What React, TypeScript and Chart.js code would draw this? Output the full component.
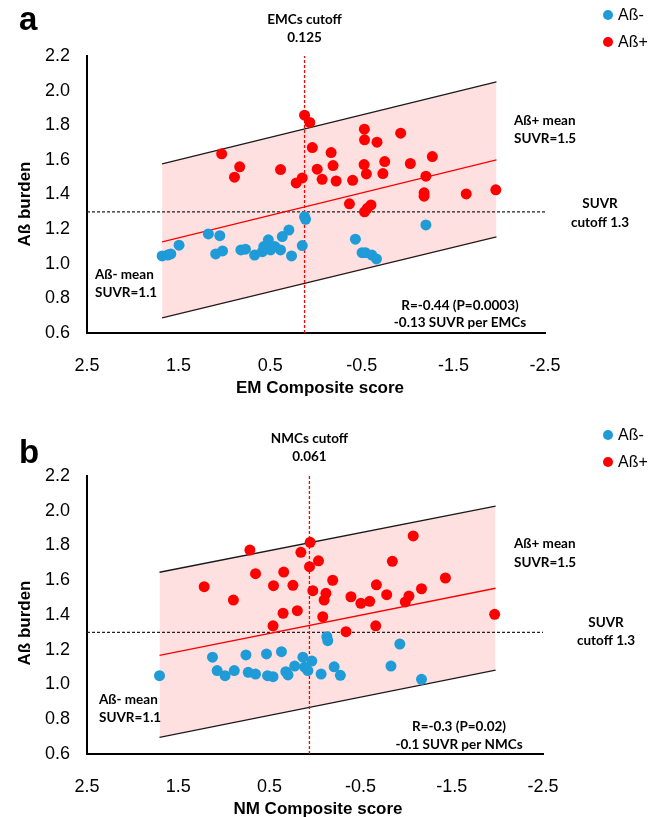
import { useEffect, useRef } from "react";
import { Chart, registerables } from "chart.js";

Chart.register(...registerables);

// ---------- shared ----------
const yTicks = [0.6, 0.8, 1.0, 1.2, 1.4, 1.6, 1.8, 2.0, 2.2];
const xTicks = [2.5, 1.5, 0.5, -0.5, -1.5, -2.5];
const seriesNames = ["Aß-", "Aß+"];
const suvrCutoff = 1.3;

// ---------- panel a (EM composite) ----------
const aNegX = [1.68, 1.62, 1.585, 1.495, 1.175, 1.05, 1.095, 1.02, 0.82, 0.77, 0.67, 0.586, 0.57, 0.52, 0.496, 0.45, 0.387, 0.368, 0.296, 0.267, 0.15, 0.125, 0.114, -0.43, -0.503, -0.54, -0.61, -0.66, -1.2];
const aNegY = [1.045, 1.05, 1.057, 1.107, 1.172, 1.162, 1.057, 1.074, 1.08, 1.084, 1.05, 1.07, 1.099, 1.138, 1.08, 1.1, 1.08, 1.157, 1.195, 1.045, 1.105, 1.272, 1.257, 1.142, 1.064, 1.064, 1.05, 1.028, 1.224];
const aPosX = [1.03, 0.833, 0.89, 0.387, 0.216, 0.15, 0.125, 0.068, 0.04, -0.013, -0.067, -0.165, -0.186, -0.22, -0.4, -0.528, -0.53, -0.666, -0.924, -0.525, -0.55, -0.75, -0.73, -1.03, -1.27, -1.2, -1.963, -1.64, -1.18, -1.18, -0.365, -0.6, -0.56, -0.53];
const aPosY = [1.635, 1.56, 1.5, 1.544, 1.467, 1.496, 1.858, 1.816, 1.671, 1.546, 1.488, 1.642, 1.567, 1.478, 1.482, 1.777, 1.716, 1.702, 1.754, 1.573, 1.519, 1.59, 1.521, 1.579, 1.619, 1.506, 1.427, 1.403, 1.41, 1.39, 1.346, 1.34, 1.32, 1.3];
const aBandX = [1.68, -1.97];
const aUpperY = [1.577, 2.05];
const aFitY = [1.126, 1.6];
const aLowerY = [0.687, 1.155];
const aCutoffX = 0.125;

// ---------- panel b (NM composite) ----------
const bNegX = [1.705, 1.124, 1.073, 0.986, 0.885, 0.757, 0.732, 0.652, 0.532, 0.52, 0.46, 0.368, 0.32, 0.296, 0.223, 0.133, 0.114, 0.078, 0.035, -0.067, -0.13, -0.14, -0.21, -0.278, -0.833, -1.168, -0.93];
const bNegY = [1.051, 1.157, 1.08, 1.051, 1.08, 1.17, 1.07, 1.06, 1.176, 1.051, 1.045, 1.189, 1.074, 1.055, 1.106, 1.157, 1.1, 1.08, 1.135, 1.06, 1.275, 1.252, 1.102, 1.053, 1.106, 1.03, 1.233];
const bPosX = [1.215, 0.895, 0.714, 0.652, 0.455, 0.343, 0.242, 0.35, 0.194, 0.46, 0.155, 0.053, 0.06, -0.038, 0.024, -0.1, -0.12, -0.085, -0.194, -0.394, -0.503, -0.6, -0.673, -0.786, -0.848, -1.077, -1.03, -0.99, -1.168, -1.43, -1.97, -0.666, -0.34];
const bPosY = [1.563, 1.486, 1.774, 1.638, 1.569, 1.647, 1.571, 1.41, 1.425, 1.338, 1.761, 1.818, 1.678, 1.712, 1.54, 1.486, 1.525, 1.39, 1.6, 1.505, 1.467, 1.479, 1.574, 1.517, 1.709, 1.855, 1.509, 1.475, 1.551, 1.613, 1.404, 1.338, 1.304];
const bBandX = [1.705, -1.98];
const bUpperY = [1.646, 2.027];
const bFitY = [1.168, 1.554];
const bLowerY = [0.696, 1.083];
const bCutoffX = 0.061;

const BLUE = "#1f9bd7";
const RED = "#ff0000";
const LATO = '"Lato", "Liberation Sans", sans-serif';
const ARIAL = '"Liberation Sans", Arial, sans-serif';

const pts = (xs: number[], ys: number[]) => xs.map((x, i) => ({ x, y: ys[i] }));

type PanelCfg = {
  letter: string;
  negX: number[]; negY: number[]; posX: number[]; posY: number[];
  bandX: number[]; upperY: number[]; fitY: number[]; lowerY: number[];
  cutoffX: number; cutoffTitle: string; cutoffLabel: string;
  xTitle: string; stats: string[];
  lay: any;
};

const panels: PanelCfg[] = [
  {
    letter: "a",
    negX: aNegX, negY: aNegY, posX: aPosX, posY: aPosY,
    bandX: aBandX, upperY: aUpperY, fitY: aFitY, lowerY: aLowerY,
    cutoffX: aCutoffX, cutoffTitle: "EMCs cutoff", cutoffLabel: aCutoffX.toFixed(3),
    xTitle: "EM Composite score", stats: ["R=-0.44 (P=0.0003)", "-0.13 SUVR per EMCs"],
    lay: {
      top: 0, h: 408, padTop: 56, padRight: 113, xH: 75,
      letterY: 30, cutY: [24, 42], legY: [15, 42],
      posMean: [514, 125, 143], suvr: [600, 208, 227], negMean: [95, 279, 297],
      stats: [460, 310, 327], xTitle: [320, 393], yTitle: [25, 204],
    },
  },
  {
    letter: "b",
    negX: bNegX, negY: bNegY, posX: bPosX, posY: bPosY,
    bandX: bBandX, upperY: bUpperY, fitY: bFitY, lowerY: bLowerY,
    cutoffX: bCutoffX, cutoffTitle: "NMCs cutoff", cutoffLabel: bCutoffX.toFixed(3),
    xTitle: "NM Composite score", stats: ["R=-0.3 (P=0.02)", "-0.1 SUVR per NMCs"],
    lay: {
      top: 408, h: 409, padTop: 68, padRight: 115, xH: 63,
      letterY: 55, cutY: [35, 53], legY: [27, 54],
      posMean: [514, 140, 159], suvr: [606, 219, 237], negMean: [99, 296, 314],
      stats: [459, 323, 341], xTitle: [318, 406], yTitle: [25, 215],
    },
  },
];

function makeTextPlugin(p: PanelCfg) {
  const L = p.lay;
  return {
    id: "panelText",
    afterDraw(chart: any) {
      const ctx = chart.ctx as CanvasRenderingContext2D;
      const xs = chart.scales.x;
      ctx.save();
      ctx.fillStyle = "#000";
      ctx.textBaseline = "alphabetic";

      // panel letter
      ctx.textAlign = "left";
      ctx.font = `bold 33px ${ARIAL}`;
      ctx.fillText(p.letter, 19, L.letterY);

      // cutoff label
      const cx = xs.getPixelForValue(p.cutoffX);
      ctx.textAlign = "center";
      ctx.font = `bold 13.5px ${LATO}`;
      ctx.fillText(p.cutoffTitle, cx, L.cutY[0]);
      ctx.fillText(p.cutoffLabel, cx, L.cutY[1]);

      // legend
      const ds = chart.data.datasets.filter((d: any) => d.isSeries);
      ds.forEach((d: any, i: number) => {
        ctx.fillStyle = d.backgroundColor;
        ctx.beginPath();
        ctx.arc(608, L.legY[i], 5, 0, Math.PI * 2);
        ctx.fill();
        ctx.fillStyle = "#000";
        ctx.textAlign = "left";
        ctx.textBaseline = "middle";
        ctx.font = `16px ${ARIAL}`;
        ctx.fillText(d.label, 618, L.legY[i] + 1);
      });
      ctx.textBaseline = "alphabetic";

      // annotations
      ctx.font = `bold 13.5px ${LATO}`;
      ctx.textAlign = "left";
      ctx.fillText("Aß+ mean", L.posMean[0], L.posMean[1]);
      ctx.fillText("SUVR=1.5", L.posMean[0], L.posMean[2]);
      ctx.fillText("Aß- mean", L.negMean[0], L.negMean[1]);
      ctx.fillText("SUVR=1.1", L.negMean[0], L.negMean[2]);
      ctx.textAlign = "center";
      ctx.fillText("SUVR", L.suvr[0], L.suvr[1]);
      ctx.fillText(`cutoff ${suvrCutoff}`, L.suvr[0], L.suvr[2]);
      ctx.fillText(p.stats[0], L.stats[0], L.stats[1]);
      ctx.fillText(p.stats[1], L.stats[0], L.stats[2]);

      // axis titles
      ctx.font = `bold 17px ${ARIAL}`;
      ctx.fillText(p.xTitle, L.xTitle[0], L.xTitle[1]);
      ctx.save();
      ctx.translate(L.yTitle[0], L.yTitle[1]);
      ctx.rotate(-Math.PI / 2);
      ctx.textBaseline = "middle";
      ctx.fillText("Aß burden", 0, 0);
      ctx.restore();

      ctx.restore();
    },
  };
}

function Panel({ p }: { p: PanelCfg }) {
  const ref = useRef<HTMLCanvasElement>(null);
  useEffect(() => {
    const L = p.lay;
    const lineDs = (xs: number[], ys: number[], color: string, width: number, extra: any = {}) => ({
      type: "line",
      data: pts(xs, ys),
      borderColor: color,
      borderWidth: width,
      pointRadius: 0,
      fill: false,
      order: 1,
      ...extra,
    });
    const chart = new Chart(ref.current!, {
      type: "scatter",
      data: {
        datasets: [
          {
            label: seriesNames[0], isSeries: true,
            data: pts(p.negX, p.negY),
            backgroundColor: BLUE, borderWidth: 0, pointRadius: 5.5, order: 0,
          },
          {
            label: seriesNames[1], isSeries: true,
            data: pts(p.posX, p.posY),
            backgroundColor: RED, borderWidth: 0, pointRadius: 5.5, order: 0,
          },
          lineDs(p.bandX, p.upperY, "#1a1a1a", 1.3, { fill: "+1", backgroundColor: "rgba(255,0,0,0.12)", order: 3 }),
          lineDs(p.bandX, p.lowerY, "#1a1a1a", 1.3, { order: 3 }),
          lineDs(p.bandX, p.fitY, RED, 1.3),
          lineDs([xTicks[0], xTicks[xTicks.length - 1]], [suvrCutoff, suvrCutoff], "#222", 1.2, { borderDash: [3, 2] }),
          lineDs([p.cutoffX, p.cutoffX], [yTicks[0], yTicks[yTicks.length - 1]], RED, 1.3, { borderDash: [3, 2], order: 0 }),
        ] as any,
      },
      options: {
        animation: false,
        responsive: false,
        events: [],
        layout: { padding: { left: 0, right: L.padRight, top: L.padTop, bottom: 0 } },
        plugins: { legend: { display: false }, tooltip: { enabled: false } },
        scales: {
          x: {
            type: "linear",
            reverse: true,
            min: xTicks[xTicks.length - 1],
            max: xTicks[0],
            afterBuildTicks: (s: any) => { s.ticks = xTicks.map((v) => ({ value: v })); },
            afterFit: (s: any) => { s.height = L.xH; },
            grid: { display: false, drawTicks: false },
            border: { display: true, color: "#000", width: 2 },
            ticks: {
              color: "#000", padding: 22, maxRotation: 0, autoSkip: false,
              font: { family: ARIAL, size: 18 },
              callback: (v: any) => Number(v).toFixed(1),
            },
          },
          y: {
            type: "linear",
            min: yTicks[0],
            max: yTicks[yTicks.length - 1],
            afterBuildTicks: (s: any) => { s.ticks = yTicks.map((v) => ({ value: v })); },
            afterFit: (s: any) => { s.width = 87; },
            grid: { display: false, drawTicks: false },
            border: { display: true, color: "#000", width: 2 },
            ticks: {
              color: "#000", padding: 17, autoSkip: false,
              font: { family: ARIAL, size: 18 },
              callback: (v: any) => Number(v).toFixed(1),
            },
          },
        },
      } as any,
      plugins: [makeTextPlugin(p)],
    });
    return () => chart.destroy();
  }, [p]);
  return (
    <canvas
      ref={ref}
      width={658}
      height={p.lay.h}
      style={{ position: "absolute", left: 0, top: p.lay.top, width: 658, height: p.lay.h, display: "block" }}
    />
  );
}

export default function App() {
  return (
    <div style={{ position: "absolute", left: 0, top: 0, width: 658, height: 817, background: "#fff" }}>
      {panels.map((p) => (
        <Panel key={p.letter} p={p} />
      ))}
    </div>
  );
}
